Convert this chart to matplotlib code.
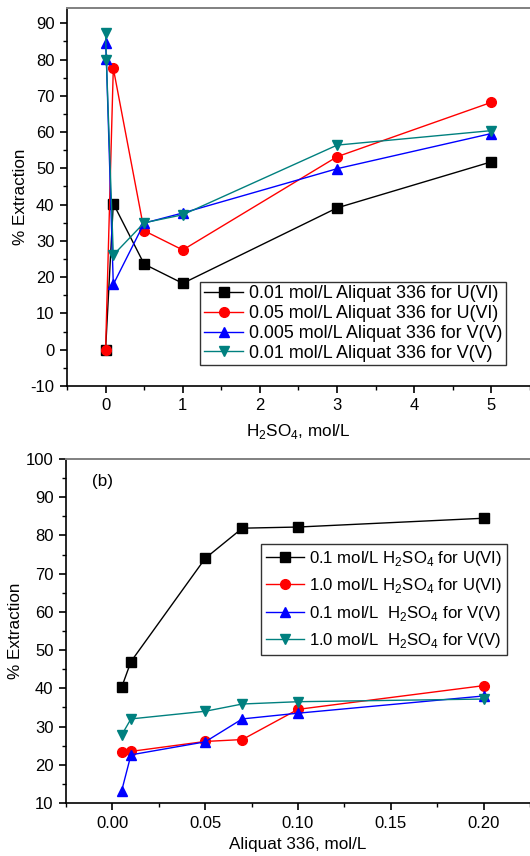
import numpy as np
import matplotlib
matplotlib.use('Agg')
import matplotlib.pyplot as plt
from matplotlib.ticker import MultipleLocator, FormatStrFormatter

plt.rcParams['font.family'] = ['Liberation Sans', 'DejaVu Sans']
plt.rcParams['mathtext.fontset'] = 'custom'
plt.rcParams['mathtext.rm'] = 'Liberation Sans'
plt.rcParams['axes.unicode_minus'] = False

# (a) extraction vs H2SO4 concentration
acid_u = [0, 0.1, 0.5, 1, 3, 5]
u_001 = [0.0, 40.3, 23.6, 18.3, 39.1, 51.8]
u_005 = [0.0, 77.6, 32.8, 27.5, 53.2, 68.2]
acid_v = [0, 0.01, 0.1, 0.5, 1, 3, 5]
v_0005 = [84.6, 80.1, 18.0, 34.9, 37.7, 49.9, 59.6]
v_001 = [87.3, 80.0, 26.1, 35.0, 37.2, 56.4, 60.4]
labels_a = ['0.01 mol/L Aliquat 336 for U(VI)',
            '0.05 mol/L Aliquat 336 for U(VI)',
            '0.005 mol/L Aliquat 336 for V(V)',
            '0.01 mol/L Aliquat 336 for V(V)']

# (b) extraction vs Aliquat 336 concentration
aliquat = [0.005, 0.01, 0.05, 0.07, 0.1, 0.2]
u_01 = [40.3, 47.0, 74.0, 81.9, 82.2, 84.5]
u_10 = [23.4, 23.5, 26.1, 26.6, 34.5, 40.7]
v_01 = [13.2, 22.6, 26.0, 32.0, 33.5, 38.0]
v_10 = [27.8, 32.0, 34.0, 35.9, 36.5, 37.2]
labels_b = ['0.1 mol/L H$_2$SO$_4$ for U(VI)',
            '1.0 mol/L H$_2$SO$_4$ for U(VI)',
            '0.1 mol/L  H$_2$SO$_4$ for V(V)',
            '1.0 mol/L  H$_2$SO$_4$ for V(V)']

teal = '#00807f'
styles = [dict(color='black', marker='s'),
          dict(color='red', marker='o'),
          dict(color='blue', marker='^'),
          dict(color=teal, marker='v')]

fig = plt.figure(figsize=(5.3, 8.56), dpi=100)
ax1 = fig.add_axes([67/530, 1 - 386/856, 1 - 67/530, (386 - 8)/856])
ax2 = fig.add_axes([66/530, 1 - 803/856, 1 - 66/530, (803 - 459)/856])


def style_axes(ax):
    ax.spines['right'].set_visible(False)
    ax.spines['top'].set_color('#808080')
    ax.spines['top'].set_linewidth(1.4)
    ax.spines['left'].set_linewidth(1.2)
    ax.spines['bottom'].set_linewidth(1.2)
    ax.tick_params(which='both', direction='out', top=False, right=False, labelsize=12)
    ax.tick_params(which='major', length=5, width=1.2, pad=4)
    ax.tick_params(which='minor', length=3, width=1.0)
    ax.set_ylabel('% Extraction', fontsize=12.3, labelpad=2)


# top panel
xs = [acid_u, acid_u, acid_v, acid_v]
ys = [u_001, u_005, v_0005, v_001]
for x, y, st, lab in zip(xs, ys, styles, labels_a):
    ax1.plot(x, y, lw=1.0, ms=7, label=lab, **st)
ax1.set_xlim(-0.5, 5.5)
ax1.set_ylim(-10, 94.2)
ax1.xaxis.set_major_locator(MultipleLocator(1))
ax1.xaxis.set_minor_locator(MultipleLocator(0.5))
ax1.yaxis.set_major_locator(MultipleLocator(10))
ax1.yaxis.set_minor_locator(MultipleLocator(5))
style_axes(ax1)
ax1.set_xlabel('H$_2$SO$_4$, mol/L', fontsize=12.3, labelpad=6)
leg1 = ax1.legend(loc='center', fontsize=12.9, frameon=True, fancybox=False,
                  edgecolor='black', handlelength=2.2, borderpad=0.2,
                  labelspacing=0.15, handletextpad=0.3, borderaxespad=0,
                  bbox_to_anchor=(203/530, 1 - 367/856, 300/530, 87/856),
                  bbox_transform=fig.transFigure)
leg1.get_frame().set_linewidth(1.0)

# bottom panel
ys = [u_01, u_10, v_01, v_10]
for y, st, lab in zip(ys, styles, labels_b):
    ax2.plot(aliquat, y, lw=1.0, ms=7, label=lab, **st)
ax2.set_xlim(-0.025, 0.225)
ax2.set_ylim(10, 100)
ax2.xaxis.set_major_locator(MultipleLocator(0.05))
ax2.xaxis.set_minor_locator(MultipleLocator(0.025))
ax2.xaxis.set_major_formatter(FormatStrFormatter('%.2f'))
ax2.yaxis.set_major_locator(MultipleLocator(10))
ax2.yaxis.set_minor_locator(MultipleLocator(5))
style_axes(ax2)
ax2.set_xlabel('Aliquat 336, mol/L', fontsize=12.3, labelpad=5)
ax2.text(0.055, 0.955, '(b)', transform=ax2.transAxes, fontsize=12.3, va='top')
leg2 = ax2.legend(loc='center', fontsize=12.1, frameon=True, fancybox=False,
                  edgecolor='black', handlelength=2.3, borderpad=0.3,
                  labelspacing=0.5, handletextpad=0.3, borderaxespad=0,
                  bbox_to_anchor=(263/530, 1 - 656/856, 242/530, 113/856),
                  bbox_transform=fig.transFigure)
leg2.get_frame().set_linewidth(1.0)

fig.savefig('out.png', dpi=100)
